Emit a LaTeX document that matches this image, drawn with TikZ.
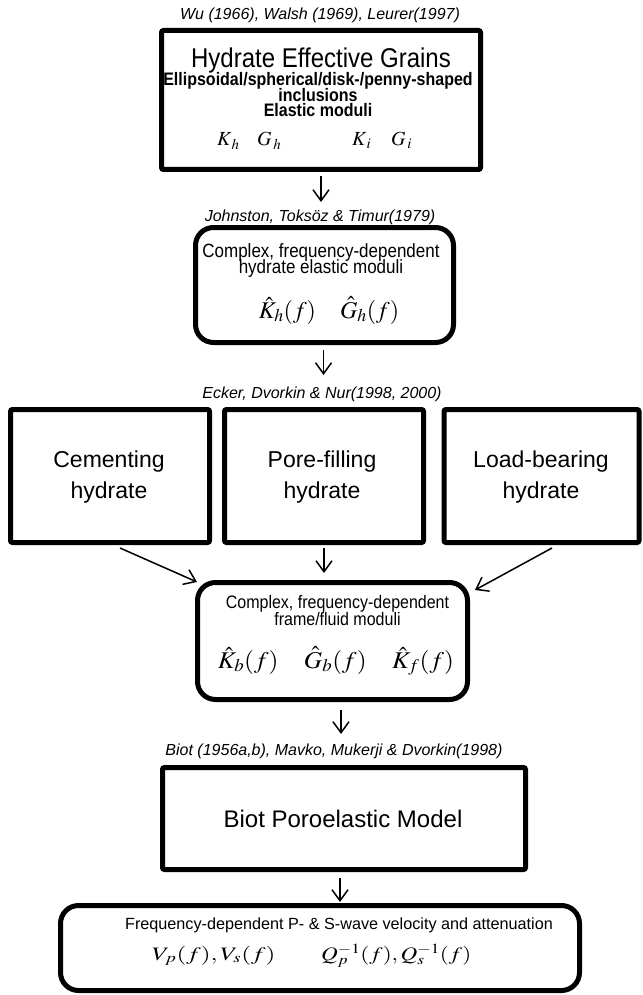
\documentclass[tikz,border=0pt]{standalone}
\usepackage{mathptmx}
\usepackage{graphicx}
\usepackage[no-math]{fontspec}
\setmainfont{Liberation Sans}
\usetikzlibrary{arrows.meta,calc}
\newcommand{\vstr}[1]{\scalebox{1}[1.13]{#1}}
\begin{document}
\begin{tikzpicture}[x=1pt,y=-1pt,
  sq/.style={draw, line width=5pt, rounded corners=2pt, inner sep=0pt},
  rd/.style={draw, line width=5pt, rounded corners=18pt, inner sep=0pt},
  txt/.style={inner sep=0pt, anchor=base},
  cite/.style={txt, font=\fontsize{16}{19}\selectfont\itshape},
  arr/.style={-{Straight Barb[length=11pt,width=16pt]}, line width=1.5pt}
]
\useasboundingbox (0,0) rectangle (642,995);

% boxes
\node[sq, minimum width=319pt, minimum height=139pt] (box1) at (321,100) {};
\node[rd, minimum width=258pt, minimum height=115pt] (box2) at (324.5,285) {};
\node[sq, minimum width=199pt, minimum height=133pt] (boxA) at (110,476) {};
\node[sq, minimum width=199pt, minimum height=133pt] (boxB) at (324,476) {};
\node[sq, minimum width=195pt, minimum height=133pt] (boxC) at (541.5,476) {};
\node[rd, minimum width=270pt, minimum height=117pt] (box4) at (332.5,641) {};
\node[sq, minimum width=363pt, minimum height=102pt] (biot) at (344,818.5) {};
\node[rd, minimum width=519pt, minimum height=85pt] (box6) at (320,948) {};

% citations
\node[cite] (c1) at (320,20) {Wu (1966), Walsh (1969), Leurer(1997)};
\node[cite] (c2) at (320,222) {Johnston, Toksöz \& Timur(1979)};
\node[cite] (c3) at (322,398) {Ecker, Dvorkin \& Nur(1998, 2000)};
\node[cite] (c5) at (334,755) {Biot (1956a,b), Mavko, Mukerji \& Dvorkin(1998)};

% box 1 text
\node[txt, font=\fontsize{24}{28}\selectfont] (t1a) at (321,68) {\vstr{Hydrate Effective Grains}};
\node[txt, font=\fontsize{16}{18}\selectfont\bfseries] (t1b) at (318,86) {\vstr{Ellipsoidal/spherical/disk-/penny-shaped}};
\node[txt, font=\fontsize{16}{18}\selectfont\bfseries] (t1c) at (318,101.5) {\vstr{inclusions}};
\node[txt, font=\fontsize{16}{18}\selectfont\bfseries] (t1d) at (318,117) {\vstr{Elastic moduli}};
\node[txt, anchor=base west, font=\fontsize{20}{22}\selectfont] (kh) at (217,146) {$K_{\,h}$};
\node[txt, anchor=base west, font=\fontsize{20}{22}\selectfont] (gh) at (257,146) {$G_{\,h}$};
\node[txt, anchor=base west, font=\fontsize{20}{22}\selectfont] (ki) at (352,146) {$K_{\,i}$};
\node[txt, anchor=base west, font=\fontsize{20}{22}\selectfont] (gi) at (391,146) {$G_{\,i}$};

% box 2 text
\node[txt, font=\fontsize{17}{20}\selectfont] (t2a) at (321,257) {\vstr{Complex, frequency-dependent}};
\node[txt, font=\fontsize{17}{20}\selectfont] (t2b) at (321,273.5) {\vstr{hydrate elastic moduli}};
\node[txt, font=\fontsize{24}{28}\selectfont] (t2m) at (329,318) {$\hat{K}_h(f)\quad\hat{G}_h(f)$};

% three boxes text
\node[txt, font=\fontsize{23}{27}\selectfont] (tA1) at (109,467) {Cementing};
\node[txt, font=\fontsize{23}{27}\selectfont] (tA2) at (109,498) {hydrate};
\node[txt, font=\fontsize{23}{27}\selectfont] (tB1) at (322,467) {Pore-filling};
\node[txt, font=\fontsize{23}{27}\selectfont] (tB2) at (322,498) {hydrate};
\node[txt, font=\fontsize{23}{27}\selectfont] (tC1) at (541,467) {Load-bearing};
\node[txt, font=\fontsize{23}{27}\selectfont] (tC2) at (541,498) {hydrate};

% box 4 text
\node[txt, font=\fontsize{16}{19}\selectfont] (t4a) at (337.5,608) {\vstr{Complex, frequency-dependent}};
\node[txt, font=\fontsize{16}{19}\selectfont] (t4b) at (337.5,625) {\vstr{frame/fluid moduli}};
\node[txt, font=\fontsize{24}{28}\selectfont] (t4m) at (336,668) {\scalebox{1.06}[1]{$\hat{K}_b(f)\quad\hat{G}_b(f)\quad\hat{K}_f(f)$}};

% biot
\node[txt, font=\fontsize{24}{28}\selectfont] (tbiot) at (343,827) {Biot Poroelastic Model};

% box 6 text
\node[txt, font=\fontsize{16.2}{19}\selectfont] (t6a) at (339,929) {Frequency-dependent P- \& S-wave velocity and attenuation};
\node[txt, anchor=base west, font=\fontsize{19}{24}\selectfont] (t6m1) at (152,960) {\scalebox{1.33}[1]{$V_p(f),V_s(f)$}};
\node[txt, anchor=base west, font=\fontsize{19}{24}\selectfont] (t6m2) at (321,960) {\scalebox{1.22}[1]{$Q_p^{-1}(f),Q_s^{-1}(f)$}};

% arrows
\draw[arr] ($(box1.south)+(0,4)$) -- ($(box1.south)+(0,30)$);
\draw[arr] ($(box2.south)+(-1,5)$) -- ($(box2.south)+(-1,30)$);
\draw[arr] ($(boxA.south)+(10,3)$) -- ($(box4.north west)+(2,2)$);
\draw[arr] ($(boxB.south)+(0,3)$) -- ($(boxB.south)+(0,28)$);
\draw[arr] ($(boxC.south)+(10.5,3)$) -- ($(box4.north east)+(5,10)$);
\draw[arr] ($(biot.north)+(-3,-55)$) -- ($(biot.north)+(-3,-31)$);
\draw[arr] ($(biot.south)+(-4,6)$) -- ($(biot.south)+(-4,30)$);
\end{tikzpicture}
\end{document}
